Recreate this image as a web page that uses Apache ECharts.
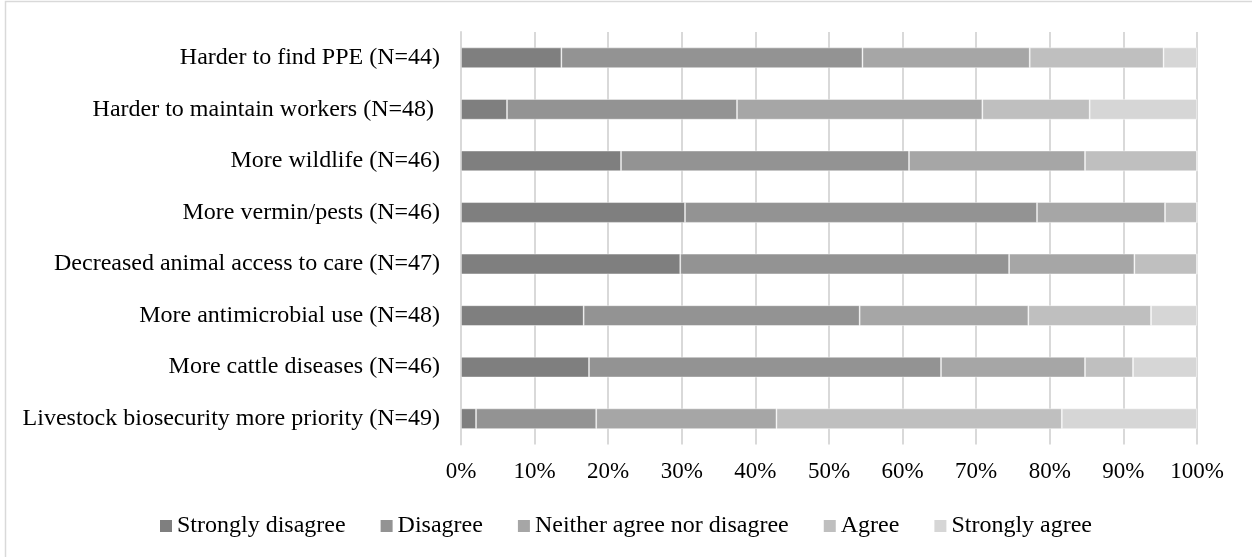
<!DOCTYPE html>
<html>
<head>
<meta charset="utf-8">
<title>Perceived impacts – stacked responses</title>
<script src="https://cdn.jsdelivr.net/npm/echarts@6/dist/echarts.min.js"></script>
<style>
  html, body { margin: 0; padding: 0; background: #ffffff; }
  #chart { width: 1252px; height: 557px; }
</style>
</head>
<body>
<div id="chart"></div>
<script>
// Survey statements (top to bottom) with respondent counts
const categories = [
  'Harder to find PPE (N=44)',
  'Harder to maintain workers (N=48) ',
  'More wildlife (N=46)',
  'More vermin/pests (N=46)',
  'Decreased animal access to care (N=47)',
  'More antimicrobial use (N=48)',
  'More cattle diseases (N=46)',
  'Livestock biosecurity more priority (N=49)'
];
const respondents = [44, 48, 46, 46, 47, 48, 46, 49];

// Number of answers per response level, same order as categories
const stronglyDisagree = [6, 3, 10, 14, 14, 8, 8, 1];
const disagree         = [18, 15, 18, 22, 21, 18, 22, 8];
const neither          = [10, 16, 11, 8, 8, 11, 9, 12];
const agree            = [8, 7, 7, 2, 4, 8, 3, 19];
const stronglyAgree    = [2, 7, 0, 0, 0, 3, 4, 9];

const levelNames = ['Strongly disagree', 'Disagree', 'Neither agree nor disagree', 'Agree', 'Strongly agree'];
const levelColors = ['#7f7f7f', '#939393', '#a6a6a6', '#bfbfbf', '#d6d6d6'];
const levelCounts = [stronglyDisagree, disagree, neither, agree, stronglyAgree];

const xTicks = [0, 10, 20, 30, 40, 50, 60, 70, 80, 90, 100];

const FONT = '"Liberation Serif", "Times New Roman", serif';

// share of respondents in percent
const toShare = counts => counts.map((c, i) => c / respondents[i] * 100);

const series = levelNames.map((name, k) => ({
  name: name,
  type: 'bar',
  stack: 'total',
  barWidth: '40%',
  data: toShare(levelCounts[k]),
  itemStyle: {
    color: levelColors[k],
    borderColor: 'rgba(255,255,255,0.55)',
    borderWidth: 0.8
  },
  emphasis: { disabled: true }
}));

const chart = echarts.init(document.getElementById('chart'), null, { renderer: 'canvas' });

chart.setOption({
  animation: false,
  backgroundColor: '#ffffff',
  textStyle: { fontFamily: FONT },
  grid: { left: 461, right: 55, top: 32, bottom: 112.5, containLabel: false },
  xAxis: {
    type: 'value',
    min: xTicks[0],
    max: xTicks[xTicks.length - 1],
    interval: xTicks[1] - xTicks[0],
    axisLine: { show: false },
    axisTick: { show: false },
    splitLine: { show: true, lineStyle: { color: '#d9d9d9', width: 2 } },
    axisLabel: {
      formatter: '{value}%',
      color: '#000000',
      fontFamily: FONT,
      fontSize: 23,
      margin: 16
    }
  },
  yAxis: {
    type: 'category',
    inverse: true,
    data: categories,
    axisLine: { show: true, lineStyle: { color: '#d9d9d9', width: 2 } },
    axisTick: { show: false },
    axisLabel: {
      color: '#000000',
      fontFamily: FONT,
      fontSize: 24,
      margin: 21
    }
  },
  legend: {
    data: levelNames,
    left: 'center',
    top: 509,
    icon: 'rect',
    itemWidth: 12,
    itemHeight: 12,
    itemGap: 35,
    itemStyle: { borderWidth: 0 },
    textStyle: { color: '#000000', fontFamily: FONT, fontSize: 24 }
  },
  graphic: [
    {
      type: 'polyline',
      shape: { points: [[5.5, 557], [5.5, 1.5], [1252, 1.5]] },
      style: { stroke: '#d9d9d9', lineWidth: 1.5, fill: null },
      silent: true
    }
  ],
  series: series
});
</script>
</body>
</html>
